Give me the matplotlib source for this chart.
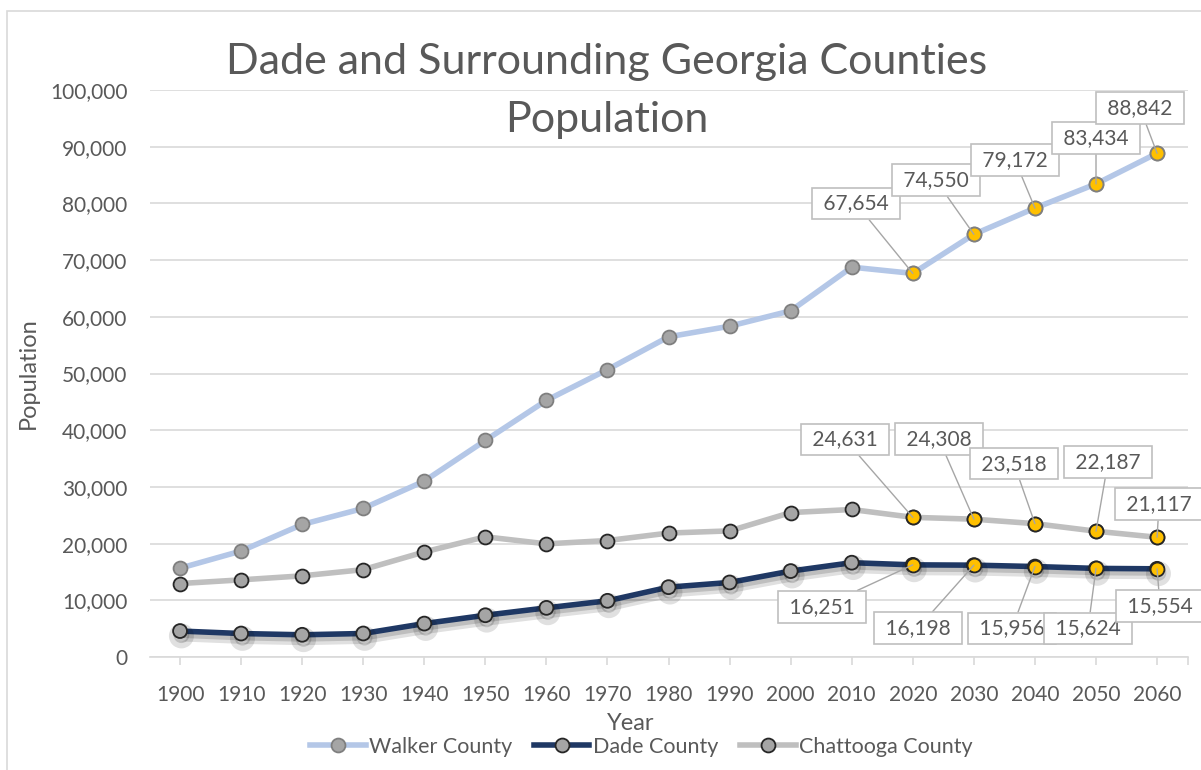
import matplotlib
matplotlib.use('Agg')
import matplotlib.pyplot as plt
import matplotlib.patheffects as pe
from matplotlib.lines import Line2D
from matplotlib.patches import Rectangle
from matplotlib.ticker import FuncFormatter

plt.rcParams['font.family'] = ['Lato', 'DejaVu Sans']

years = ['1900', '1910', '1920', '1930', '1940', '1950', '1960', '1970', '1980',
         '1990', '2000', '2010', '2020', '2030', '2040', '2050', '2060']
walker = [15661, 18692, 23370, 26206, 31024, 38198, 45264, 50691, 56470,
          58340, 61053, 68756, 67654, 74550, 79172, 83434, 88842]
dade = [4578, 4139, 3918, 4146, 5894, 7364, 8666, 9910, 12318,
        13147, 15154, 16633, 16251, 16198, 15956, 15624, 15554]
chattooga = [12952, 13608, 14312, 15407, 18532, 21197, 19954, 20541, 21856,
             22242, 25470, 26015, 24631, 24308, 23518, 22187, 21117]
first_proj = 12  # 2020 onwards are projections

# label box offsets (pixels) from each projected point
walker_off = [(-57, 70), (-38, 54), (-20, 48), (0, 46), (-17, 45)]
chatt_off = [(-68, 78), (-35, 80), (-21, 60), (12, 69), (2, 33)]
dade_off = [(-91, -42), (-56, -63), (-23, -62), (-8, -60), (3, -37)]

TXT = '#595959'
GRID = '#D9D9D9'
GOLD = '#FFC000'

fig = plt.figure(figsize=(12.01, 7.70), dpi=100)
W, H = 1201, 770
ax = fig.add_axes([149.5 / W, 1 - 657 / H, (1187.6 - 149.5) / W, (657 - 90) / H])

# chart area border
fig.patches.append(Rectangle((7 / W, -0.05), 1.05, 1.05 - 11 / H, transform=fig.transFigure,
                             fill=False, ec=GRID, lw=1.2))

x = list(range(len(years)))
series = [
    ('Walker County', walker, '#B4C7E7', '#7F7F7F', walker_off, False),
    ('Dade County', dade, '#1F3864', '#262626', dade_off, True),
    ('Chattooga County', chattooga, '#BFBFBF', '#262626', chatt_off, False),
]

handles = []
for name, vals, col, edge, offs, shadow in series:
    effects = None
    if shadow:
        effects = [pe.SimpleLineShadow(offset=(1, -3.5), shadow_color='k', alpha=0.12, linewidth=8),
                   pe.SimpleLineShadow(offset=(1, -3), shadow_color='k', alpha=0.15), pe.Normal()]
    ax.plot(x, vals, color=col, lw=4, marker='o', ms=10, mfc='#A5A5A5', mec=edge, mew=1.3,
            zorder=3, path_effects=effects, solid_capstyle='round')
    ax.plot(x[first_proj:], vals[first_proj:], ls='none', marker='o', ms=10, mfc=GOLD,
            mec=edge, mew=1.3, zorder=4)
    for (dx, dy), xi, v in zip(offs, x[first_proj:], vals[first_proj:]):
        ax.annotate(f' {v:,} ', xy=(xi, v), xytext=(dx, dy), textcoords='offset pixels',
                    ha='center', va='center', fontsize=15, color=TXT, zorder=6,
                    bbox=dict(boxstyle='square,pad=0.28', fc='white', ec='#BFBFBF', lw=1.2),
                    arrowprops=dict(arrowstyle='-', color='#A6A6A6', lw=1, shrinkA=0, shrinkB=0),
                    annotation_clip=False)
    handles.append(Line2D([], [], color=col, lw=4, marker='o', ms=10, mfc='#A5A5A5', mec=edge, mew=1.3))

ax.set_xlim(-0.5, len(years) - 0.5)
ax.set_ylim(0, 100000)
ax.set_yticks(range(0, 100001, 10000))
ax.yaxis.set_major_formatter(FuncFormatter(lambda v, p: f'{int(v):,}'))
ax.set_xticks(x)
ax.set_xticks([len(years) - 0.5], minor=True)
ax.set_xticklabels(years)
ax.grid(axis='y', color=GRID, lw=1.2)
ax.set_axisbelow(True)
for s in ['top', 'right', 'left']:
    ax.spines[s].set_visible(False)
ax.spines['bottom'].set_color(GRID)
ax.spines['bottom'].set_linewidth(1.2)
ax.tick_params(axis='y', length=0, pad=16, labelsize=15, labelcolor=TXT)
ax.tick_params(axis='x', which='both', length=6, color=GRID, width=1.2, pad=14,
               labelsize=15, labelcolor=TXT)

fig.text(607 / W, 1 - 62 / H, 'Dade and Surrounding Georgia Counties', ha='center', va='center',
         fontsize=31, color=TXT)
fig.text(607 / W, 1 - 120 / H, 'Population', ha='center', va='center', fontsize=31, color=TXT)
fig.text(28 / W, 1 - 373 / H, 'Population', rotation=90, ha='center', va='center',
         fontsize=17, color=TXT)
fig.text(631 / W, 1 - 723 / H, 'Year', ha='center', va='center', fontsize=17, color=TXT)

fig.legend(handles, [s[0] for s in series], loc='center', bbox_to_anchor=(641 / W, 1 - 747 / H),
           ncol=3, frameon=False, fontsize=15.5, labelcolor=TXT, handlelength=2.6,
           handletextpad=0.15, columnspacing=1.0)

fig.savefig('out.png', dpi=100)
